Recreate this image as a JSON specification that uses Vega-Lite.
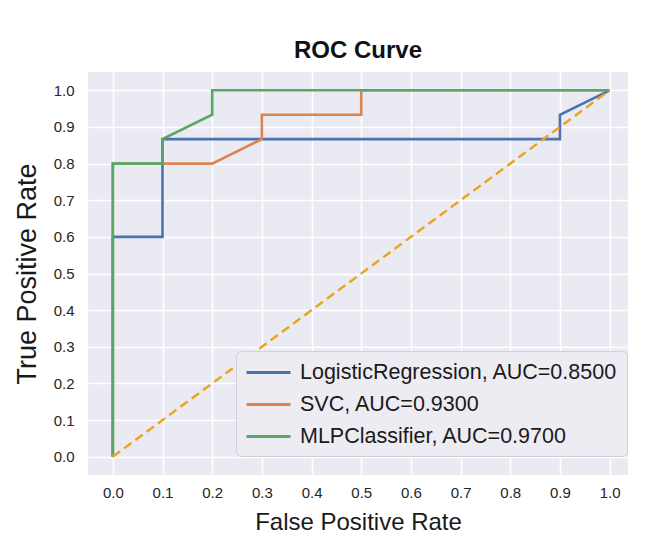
{
  "$schema": "https://vega.github.io/schema/vega-lite/v6.json",
  "autosize": {"type": "none"},
  "padding": {"left": 88, "top": 72, "right": 19, "bottom": 85},
  "width": 540,
  "height": 403,
  "background": "white",
  "datasets": {
    "roc": [
      {"model": "LogisticRegression, AUC=0.8500", "i": 0, "fpr": 0.0, "tpr": 0.0},
      {"model": "LogisticRegression, AUC=0.8500", "i": 1, "fpr": 0.0, "tpr": 0.6},
      {"model": "LogisticRegression, AUC=0.8500", "i": 2, "fpr": 0.1, "tpr": 0.6},
      {"model": "LogisticRegression, AUC=0.8500", "i": 3, "fpr": 0.1, "tpr": 0.8667},
      {"model": "LogisticRegression, AUC=0.8500", "i": 4, "fpr": 0.9, "tpr": 0.8667},
      {"model": "LogisticRegression, AUC=0.8500", "i": 5, "fpr": 0.9, "tpr": 0.9333},
      {"model": "LogisticRegression, AUC=0.8500", "i": 6, "fpr": 1.0, "tpr": 1.0},
      {"model": "SVC, AUC=0.9300", "i": 0, "fpr": 0.0, "tpr": 0.0},
      {"model": "SVC, AUC=0.9300", "i": 1, "fpr": 0.0, "tpr": 0.8},
      {"model": "SVC, AUC=0.9300", "i": 2, "fpr": 0.2, "tpr": 0.8},
      {"model": "SVC, AUC=0.9300", "i": 3, "fpr": 0.3, "tpr": 0.8667},
      {"model": "SVC, AUC=0.9300", "i": 4, "fpr": 0.3, "tpr": 0.9333},
      {"model": "SVC, AUC=0.9300", "i": 5, "fpr": 0.5, "tpr": 0.9333},
      {"model": "SVC, AUC=0.9300", "i": 6, "fpr": 0.5, "tpr": 1.0},
      {"model": "SVC, AUC=0.9300", "i": 7, "fpr": 1.0, "tpr": 1.0},
      {"model": "MLPClassifier, AUC=0.9700", "i": 0, "fpr": 0.0, "tpr": 0.0},
      {"model": "MLPClassifier, AUC=0.9700", "i": 1, "fpr": 0.0, "tpr": 0.8},
      {"model": "MLPClassifier, AUC=0.9700", "i": 2, "fpr": 0.1, "tpr": 0.8},
      {"model": "MLPClassifier, AUC=0.9700", "i": 3, "fpr": 0.1, "tpr": 0.8667},
      {"model": "MLPClassifier, AUC=0.9700", "i": 4, "fpr": 0.2, "tpr": 0.9333},
      {"model": "MLPClassifier, AUC=0.9700", "i": 5, "fpr": 0.2, "tpr": 1.0},
      {"model": "MLPClassifier, AUC=0.9700", "i": 6, "fpr": 1.0, "tpr": 1.0}
    ],
    "chance": [
      {"i": 0, "fpr": 0.0, "tpr": 0.0},
      {"i": 1, "fpr": 1.0, "tpr": 1.0}
    ]
  },
  "title": {
    "text": "ROC Curve",
    "font": "Liberation Sans",
    "fontSize": 24,
    "fontWeight": "bold",
    "color": "#111111",
    "offset": 9
  },
  "layer": [
    {
      "data": {"name": "roc"},
      "mark": {"type": "line", "strokeWidth": 2.6, "clip": false},
      "encoding": {
        "x": {
          "field": "fpr", "type": "quantitative",
          "scale": {"domain": [-0.05, 1.037], "nice": false, "zero": false},
          "axis": {"title": "False Positive Rate", "values": [0, 0.1, 0.2, 0.3, 0.4, 0.5, 0.6, 0.7, 0.8, 0.9, 1.0], "format": ".1f"}
        },
        "y": {
          "field": "tpr", "type": "quantitative",
          "scale": {"domain": [-0.05, 1.05], "nice": false, "zero": false},
          "axis": {"title": "True Positive Rate", "titleFontSize": 27, "values": [0, 0.1, 0.2, 0.3, 0.4, 0.5, 0.6, 0.7, 0.8, 0.9, 1.0], "format": ".1f"}
        },
        "color": {
          "field": "model", "type": "nominal",
          "scale": {
            "domain": ["LogisticRegression, AUC=0.8500", "SVC, AUC=0.9300", "MLPClassifier, AUC=0.9700"],
            "range": ["#4c72b0", "#dd8452", "#55a868"]
          },
          "legend": {
            "title": null,
            "orient": "none",
            "legendX": 148,
            "legendY": 279,
            "symbolType": "M-2,0H2",
            "symbolSize": 484,
            "symbolOffset": 11,
            "symbolStrokeWidth": 2.8,
            "labelFontSize": 21.5,
            "labelFont": "Liberation Sans",
            "labelColor": "#1a1a1a",
            "labelLimit": 400,
            "labelOffset": 19,
            "fillColor": "#ececf2",
            "strokeColor": "#d0d0d8",
            "cornerRadius": 5,
            "padding": 9,
            "rowPadding": 9
          }
        },
        "order": {"field": "i", "type": "quantitative"}
      }
    },
    {
      "data": {"name": "chance"},
      "mark": {"type": "line", "strokeWidth": 2.4, "strokeDash": [9, 5], "color": "#eba31a"},
      "encoding": {
        "x": {"field": "fpr", "type": "quantitative"},
        "y": {"field": "tpr", "type": "quantitative"},
        "order": {"field": "i", "type": "quantitative"}
      }
    }
  ],
  "config": {
    "view": {"fill": "#eaeaf2", "stroke": null},
    "axis": {
      "domain": false,
      "ticks": false,
      "grid": true,
      "gridColor": "#ffffff",
      "gridWidth": 1.6,
      "gridOpacity": 1,
      "labelFont": "Liberation Sans",
      "labelFontSize": 15,
      "labelColor": "#262626",
      "titleFont": "Liberation Sans",
      "titleFontSize": 24,
      "titleFontWeight": "normal",
      "titleColor": "#1a1a1a"
    },
    "axisX": {"labelPadding": 10, "titlePadding": 10},
    "axisY": {"labelPadding": 14, "titlePadding": 12}
  }
}
